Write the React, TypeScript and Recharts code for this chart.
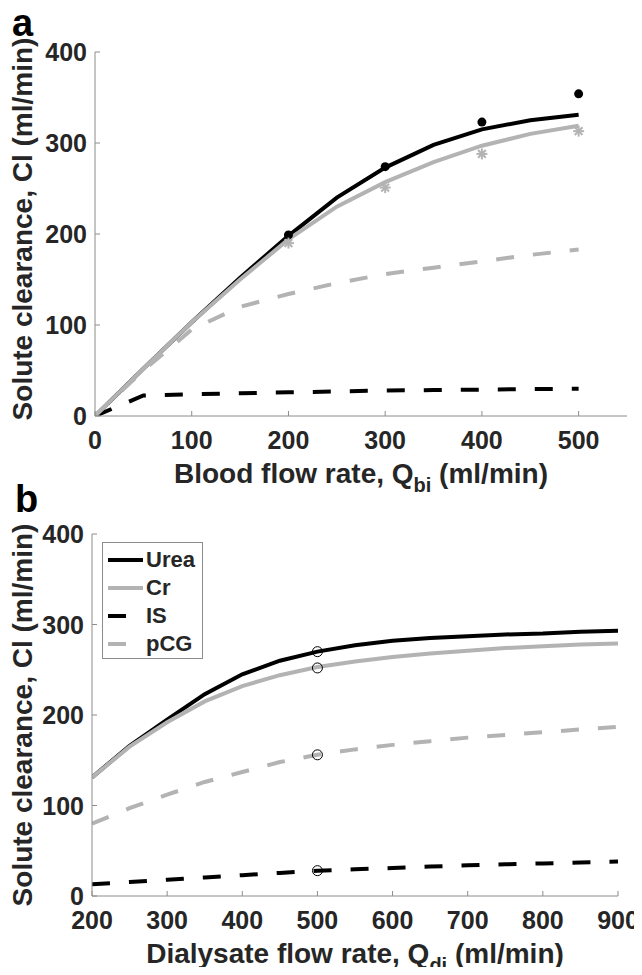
import React from "react";
import { ComposedChart, Line, Scatter, XAxis, YAxis, Legend, Label } from "recharts";

const FONT = "'Liberation Sans', Arial, Helvetica, sans-serif";
const INK = "#262626";
const BOX = "#8c8c8c";
const GRAY = "#b3b3b3";
const DASH = "18 19";

// panel a: blood flow rate sweep
const qbi = [0, 50, 100, 150, 200, 250, 300, 350, 400, 450, 500];
const ureaA = [0, 52, 103, 152, 198, 240, 273, 298, 315, 325, 331];
const crA = [0, 52, 103, 150, 194, 230, 257, 279, 297, 310, 319];
const isA = [0, 22.5, 24, 25, 26, 27, 28, 28.5, 29, 29.5, 30];
const pcgA = [0, 50, 95, 120, 134, 146, 156, 163, 170, 177, 183];

const qbiMeasured = [200, 300, 400, 500];
const ureaMeasuredA = [199, 274, 323, 354];
const crMeasuredA = [190, 251, 288, 313];

// panel b: dialysate flow rate sweep
const qdi = [200, 250, 300, 350, 400, 450, 500, 550, 600, 650, 700, 750, 800, 850, 900];
const ureaB = [131, 166, 195, 223, 245, 260, 270, 277, 282, 285, 287, 289, 290, 292, 293];
const crB = [131, 165, 192, 215, 232, 244, 253, 259, 264, 268, 271, 274, 276, 278, 279];
const isB = [13, 15.5, 18, 20.5, 23, 25.5, 28, 29.5, 31, 32.5, 34, 35, 36, 37, 38];
const pcgB = [80, 97, 112, 126, 137, 148, 156, 162, 167, 171, 175, 178, 181, 184, 187];

const qdiMeasured = [500, 500, 500, 500];
const measuredB = [270, 252, 156, 28];

const ticksA = [0, 100, 200, 300, 400, 500];
const ticksB = [200, 300, 400, 500, 600, 700, 800, 900];
const ticksY = [0, 100, 200, 300, 400];

const SERIES = [
  { name: "Urea", color: "#000000", dash: undefined as string | undefined },
  { name: "Cr", color: GRAY, dash: undefined as string | undefined },
  { name: "IS", color: "#000000", dash: DASH },
  { name: "pCG", color: GRAY, dash: DASH },
];

const zip = (xs: number[], ys: number[]) => xs.map((x, i) => ({ x, y: ys[i] }));

const txt = { fontFamily: FONT, fontWeight: 700, fill: INK };

// tickMargin 5 with tickSize -5 puts p.y on the axis line
const BottomTick = (p: any) => (
  <text x={p.x} y={p.y + 33} textAnchor="middle" fontSize={25} {...txt}>
    {p.payload.value}
  </text>
);

const LeftTick = (p: any) => (
  <text x={p.x} y={p.y + 9} textAnchor="end" fontSize={25} {...txt}>
    {p.payload.value}
  </text>
);

const xLabel = (main: string, sub: string) => (props: any) => {
  const { x, y, width } = props.viewBox;
  return (
    <text x={x + width / 2} y={y + 67} textAnchor="middle" fontSize={28} {...txt}>
      <tspan>{main}</tspan>
      <tspan fontSize={20} dy={9}>{sub}</tspan>
      <tspan dy={-9}> (ml/min)</tspan>
    </text>
  );
};

const yLabel = (shift: number) => (props: any) => {
  const { y, height } = props.viewBox;
  const cy = y + height / 2 + shift;
  return (
    <text
      x={32}
      y={cy}
      transform={`rotate(-90, 32, ${cy})`}
      textAnchor="middle"
      fontSize={28}
      {...txt}
    >
      Solute clearance, Cl (ml/min)
    </text>
  );
};

const dotShape = (p: any) => <circle cx={p.cx} cy={p.cy} r={4.5} fill="#000" />;

const starShape = (p: any) => {
  const r = 5.5;
  const d = r * 0.707;
  return (
    <g stroke={GRAY} strokeWidth={2}>
      <line x1={p.cx - r} y1={p.cy} x2={p.cx + r} y2={p.cy} />
      <line x1={p.cx} y1={p.cy - r} x2={p.cx} y2={p.cy + r} />
      <line x1={p.cx - d} y1={p.cy - d} x2={p.cx + d} y2={p.cy + d} />
      <line x1={p.cx - d} y1={p.cy + d} x2={p.cx + d} y2={p.cy - d} />
    </g>
  );
};

const ringShape = (p: any) => (
  <circle cx={p.cx} cy={p.cy} r={5} fill="none" stroke="#000" strokeWidth={1} />
);

function LegendBox() {
  return (
    <div
      style={{
        border: `1px solid ${BOX}`,
        background: "#fff",
        width: 101,
        height: 117,
        paddingTop: 3,
        boxSizing: "border-box",
        fontFamily: FONT,
      }}
    >
      {SERIES.map((s) => (
        <div key={s.name} style={{ display: "flex", alignItems: "center", height: 28 }}>
          <svg width={43} height={28} style={{ flex: "none" }}>
            <line x1={5} x2={s.dash ? 23 : 40} y1={14} y2={14} stroke={s.color} strokeWidth={4} />
          </svg>
          <span style={{ fontSize: 22, fontWeight: 700, color: INK, lineHeight: "28px" }}>
            {s.name}
          </span>
        </div>
      ))}
    </div>
  );
}

function PanelA() {
  const lines = [ureaA, crA, isA, pcgA];
  return (
    <ComposedChart width={642} height={500} margin={{ top: 52, right: 15, bottom: 0, left: 0 }}>
      <XAxis
        dataKey="x"
        type="number"
        domain={[0, 550]}
        ticks={ticksA}
        height={84}
        tickSize={-5}
        tickMargin={5}
        tick={BottomTick}
        stroke={BOX}
        allowDataOverflow
      >
        <Label content={xLabel("Blood flow rate, Q", "bi")} />
      </XAxis>
      <XAxis
        xAxisId="top"
        orientation="top"
        type="number"
        domain={[0, 550]}
        ticks={ticksA}
        height={0}
        tickSize={-5}
        tick={false}
        stroke={BOX}
        allowDataOverflow
      />
      <YAxis
        type="number"
        domain={[0, 400]}
        ticks={ticksY}
        width={95}
        tickSize={-5}
        tickMargin={13}
        tick={LeftTick}
        stroke={BOX}
        allowDataOverflow
      >
        <Label content={yLabel(-5)} />
      </YAxis>
      <YAxis
        yAxisId="right"
        orientation="right"
        type="number"
        domain={[0, 400]}
        ticks={ticksY}
        width={0}
        tickSize={-5}
        tick={false}
        stroke={BOX}
        allowDataOverflow
      />
      {SERIES.map((s, i) => (
        <Line
          key={s.name}
          name={s.name}
          data={zip(qbi, lines[i])}
          dataKey="y"
          type="linear"
          stroke={s.color}
          strokeWidth={4}
          strokeDasharray={s.dash}
          dot={false}
          activeDot={false}
          isAnimationActive={false}
        />
      ))}
      <Scatter
        data={zip(qbiMeasured, ureaMeasuredA)}
        dataKey="y"
        shape={dotShape}
        legendType="none"
        isAnimationActive={false}
      />
      <Scatter
        data={zip(qbiMeasured, crMeasuredA)}
        dataKey="y"
        shape={starShape}
        legendType="none"
        isAnimationActive={false}
      />
    </ComposedChart>
  );
}

function PanelB() {
  const lines = [ureaB, crB, isB, pcgB];
  return (
    <ComposedChart width={642} height={495} margin={{ top: 54, right: 24, bottom: 0, left: 0 }}>
      <XAxis
        dataKey="x"
        type="number"
        domain={[200, 900]}
        ticks={ticksB}
        height={79}
        tickSize={-5}
        tickMargin={5}
        tick={BottomTick}
        stroke={BOX}
        allowDataOverflow
      >
        <Label content={xLabel("Dialysate flow rate, Q", "di")} />
      </XAxis>
      <XAxis
        xAxisId="top"
        orientation="top"
        type="number"
        domain={[200, 900]}
        ticks={ticksB}
        height={0}
        tickSize={-5}
        tick={false}
        stroke={BOX}
        allowDataOverflow
      />
      <YAxis
        type="number"
        domain={[0, 400]}
        ticks={ticksY}
        width={92}
        tickSize={-5}
        tickMargin={13}
        tick={LeftTick}
        stroke={BOX}
        allowDataOverflow
      >
        <Label content={yLabel(0)} />
      </YAxis>
      <YAxis
        yAxisId="right"
        orientation="right"
        type="number"
        domain={[0, 400]}
        ticks={ticksY}
        width={0}
        tickSize={-5}
        tick={false}
        stroke={BOX}
        allowDataOverflow
      />
      {SERIES.map((s, i) => (
        <Line
          key={s.name}
          name={s.name}
          data={zip(qdi, lines[i])}
          dataKey="y"
          type="linear"
          stroke={s.color}
          strokeWidth={4}
          strokeDasharray={s.dash}
          dot={false}
          activeDot={false}
          isAnimationActive={false}
        />
      ))}
      <Scatter
        data={zip(qdiMeasured, measuredB)}
        dataKey="y"
        shape={ringShape}
        legendType="none"
        isAnimationActive={false}
      />
      {/* vertical + center + middle keeps the legend from taking plot space */}
      <Legend
        layout="vertical"
        align="center"
        verticalAlign="middle"
        content={() => <LegendBox />}
        wrapperStyle={{ left: 102, top: 62, width: 101, bottom: "auto", right: "auto" }}
      />
    </ComposedChart>
  );
}

const letterStyle: React.CSSProperties = {
  position: "absolute",
  fontFamily: FONT,
  fontWeight: 700,
  fontSize: 38,
  lineHeight: "38px",
  color: "#000",
};

export default function App() {
  return (
    <div style={{ position: "relative", width: 642, height: 975, margin: -8, background: "#fff" }}>
      <div style={{ position: "absolute", left: 0, top: 480 }}>
        <PanelB />
      </div>
      <div style={{ position: "absolute", left: 0, top: 0 }}>
        <PanelA />
      </div>
      <div style={{ ...letterStyle, left: 12, top: 4 }}>a</div>
      <div style={{ ...letterStyle, left: 15, top: 480 }}>b</div>
    </div>
  );
}
